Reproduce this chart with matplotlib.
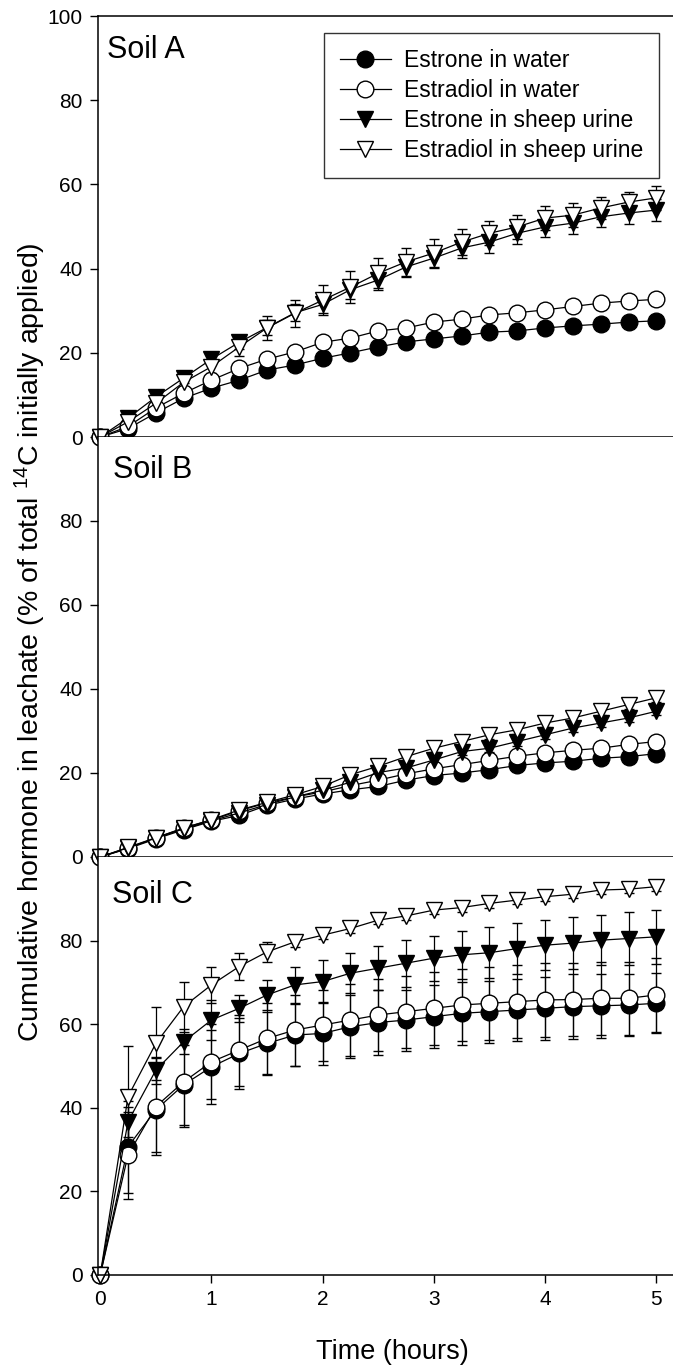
import matplotlib
matplotlib.use("Agg")
import matplotlib.pyplot as plt

plt.rcParams['font.family'] = ['Liberation Sans', 'DejaVu Sans']
plt.rcParams['mathtext.fontset'] = 'custom'
plt.rcParams['mathtext.rm'] = 'Liberation Sans'
plt.rcParams['mathtext.it'] = 'Liberation Sans:italic'
plt.rcParams['mathtext.bf'] = 'Liberation Sans:bold'

# ---------------- data ----------------
time_h = [0, 0.25, 0.5, 0.75, 1.0, 1.25, 1.5, 1.75, 2.0, 2.25, 2.5, 2.75, 3.0,
          3.25, 3.5, 3.75, 4.0, 4.25, 4.5, 4.75, 5.0]

series_labels = ["Estrone in water", "Estradiol in water",
                 "Estrone in sheep urine", "Estradiol in sheep urine"]
panel_labels = ["Soil A", "Soil B", "Soil C"]

# Soil A
A_estrone_water = [0, 2.0, 5.7, 9.2, 11.6, 13.5, 15.9, 17.1, 18.7, 20.0, 21.4, 22.6, 23.3,
                   24.0, 24.9, 25.2, 25.9, 26.4, 26.8, 27.3, 27.6]
A_estradiol_water = [0, 2.5, 6.9, 10.4, 13.5, 16.3, 18.5, 20.2, 22.5, 23.5, 25.2, 25.9, 27.3,
                     28.0, 29.0, 29.5, 30.2, 31.0, 31.8, 32.3, 32.7]
A_estrone_urine = [0, 4.5, 9.5, 14.0, 18.5, 22.5, 26.0, 29.5, 31.5, 35.0, 37.3, 40.4, 42.5,
                   44.9, 46.3, 48.4, 49.9, 50.8, 52.3, 53.2, 53.9]
A_estradiol_urine = [0, 3.6, 8.0, 13.0, 16.7, 21.4, 25.9, 29.4, 32.5, 35.6, 38.9, 41.6, 43.7,
                     46.3, 48.4, 49.9, 52.0, 52.7, 54.4, 55.8, 56.8]
A_estrone_water_err = [0, 0.4, 0.5, 0.6, 0.7, 0.8, 0.8, 0.9, 0.9, 1.0, 1.0, 1.0, 1.0,
                       1.0, 1.0, 1.0, 1.0, 1.0, 1.0, 1.0, 1.0]
A_estradiol_water_err = [0, 0.4, 0.5, 0.6, 0.7, 0.8, 0.8, 0.9, 0.9, 1.0, 1.0, 1.0, 1.0,
                         1.0, 1.0, 1.0, 1.0, 1.0, 1.0, 1.0, 1.0]
A_estrone_urine_err = [0, 0.8, 1.0, 1.2, 1.5, 1.5, 1.8, 2.0, 2.0, 2.2, 2.3, 2.3, 2.4,
                       2.4, 2.5, 2.5, 2.5, 2.5, 2.5, 2.6, 2.6]
A_estradiol_urine_err = [0, 0.8, 1.0, 1.2, 1.5, 2.2, 2.8, 3.2, 3.5, 3.8, 3.6, 3.3, 3.3,
                         3.0, 2.9, 2.9, 2.8, 2.8, 2.6, 2.5, 2.8]

# Soil B
B_estrone_water = [0, 2.0, 4.3, 6.5, 8.5, 9.9, 12.3, 13.8, 15.0, 16.0, 16.8, 18.3, 19.4,
                   20.0, 20.8, 21.8, 22.4, 22.8, 23.5, 23.9, 24.6]
B_estradiol_water = [0, 2.1, 4.5, 6.9, 8.8, 11.0, 12.9, 14.3, 15.5, 17.0, 18.3, 19.8, 21.0,
                     22.0, 23.0, 24.0, 24.8, 25.4, 25.9, 26.8, 27.5]
B_estrone_urine = [0, 2.2, 4.5, 6.7, 8.6, 10.5, 12.5, 14.3, 15.9, 17.8, 20.1, 21.2, 23.1,
                   25.1, 25.9, 27.5, 29.1, 30.7, 31.9, 33.1, 34.7]
B_estradiol_urine = [0, 2.3, 4.6, 6.9, 8.9, 11.2, 13.0, 14.8, 16.8, 19.6, 21.6, 23.9, 25.9,
                     27.5, 29.1, 30.3, 31.9, 33.1, 34.7, 36.3, 37.9]
B_estrone_water_err = [0, 0.3, 0.4, 0.5, 0.6, 0.6, 0.7, 0.7, 0.8, 0.8, 0.8, 0.8, 0.8,
                       0.8, 0.8, 0.8, 0.8, 0.8, 0.8, 0.8, 0.8]
B_estradiol_water_err = [0, 0.3, 0.4, 0.5, 0.6, 0.6, 0.7, 0.7, 0.8, 0.8, 0.8, 0.8, 0.8,
                         0.8, 0.8, 0.8, 0.8, 0.8, 0.8, 0.8, 0.8]
B_estrone_urine_err = [0, 0.3, 0.4, 0.5, 0.6, 0.6, 0.7, 0.7, 0.8, 0.8, 0.8, 0.9, 0.9,
                       0.9, 0.9, 1.0, 1.0, 1.0, 1.0, 1.0, 1.0]
B_estradiol_urine_err = [0, 0.3, 0.4, 0.5, 0.6, 0.6, 0.7, 0.7, 0.8, 0.8, 0.8, 0.9, 0.9,
                         0.9, 0.9, 1.0, 1.0, 1.0, 1.0, 1.0, 1.0]

# Soil C
C_estrone_water = [0, 30.7, 39.5, 45.5, 49.8, 53.0, 55.4, 57.4, 57.8, 59.4, 60.4, 61.0, 61.8,
                   62.6, 63.0, 63.4, 63.8, 64.2, 64.4, 64.6, 65.0]
C_estradiol_water = [0, 28.7, 40.3, 46.2, 51.0, 53.8, 56.6, 58.6, 59.8, 61.0, 62.2, 63.0, 63.8,
                     64.6, 65.0, 65.4, 65.8, 65.9, 66.2, 66.2, 67.0]
C_estrone_urine = [0, 36.7, 49.0, 55.8, 61.0, 63.8, 67.0, 69.4, 70.2, 72.2, 73.4, 74.6, 75.8,
                   76.6, 77.1, 78.1, 78.9, 79.4, 80.1, 80.5, 80.9]
C_estradiol_urine = [0, 42.7, 55.4, 64.2, 69.4, 73.8, 77.3, 79.7, 81.3, 82.9, 84.9, 85.9, 87.3,
                     87.9, 88.9, 89.7, 90.5, 91.1, 92.1, 92.3, 92.9]
C_estrone_water_err = [0, 11.0, 10.0, 9.5, 8.8, 8.5, 7.6, 7.5, 7.5, 7.6, 7.7, 7.3, 7.6,
                       7.6, 7.4, 7.4, 7.6, 7.7, 7.7, 7.4, 7.2]
C_estradiol_water_err = [0, 10.4, 11.6, 10.8, 9.0, 8.5, 8.5, 8.5, 8.5, 8.6, 8.6, 8.6, 8.7,
                         8.7, 8.7, 8.7, 8.8, 8.8, 8.8, 8.8, 8.8]
C_estrone_urine_err = [0, 3.6, 3.2, 3.0, 4.8, 3.2, 3.5, 4.4, 5.2, 4.8, 5.3, 5.6, 5.4,
                       5.8, 6.1, 6.0, 6.0, 6.2, 6.0, 6.4, 6.4]
C_estradiol_urine_err = [0, 12.0, 8.8, 6.0, 4.4, 3.2, 2.4, 1.2, 1.0, 1.0, 1.0, 1.0, 1.0,
                         1.0, 1.0, 1.0, 1.0, 1.0, 1.0, 1.0, 1.0]

y_ticks = [0, 20, 40, 60, 80, 100]
x_ticks = [0, 1, 2, 3, 4, 5]

panels = [
    ([A_estrone_water, A_estradiol_water, A_estrone_urine, A_estradiol_urine],
     [A_estrone_water_err, A_estradiol_water_err, A_estrone_urine_err, A_estradiol_urine_err]),
    ([B_estrone_water, B_estradiol_water, B_estrone_urine, B_estradiol_urine],
     [B_estrone_water_err, B_estradiol_water_err, B_estrone_urine_err, B_estradiol_urine_err]),
    ([C_estrone_water, C_estradiol_water, C_estrone_urine, C_estradiol_urine],
     [C_estrone_water_err, C_estradiol_water_err, C_estrone_urine_err, C_estradiol_urine_err]),
]

# ---------------- styling ----------------
styles = [dict(marker='o', mfc='black'), dict(marker='o', mfc='white'),
          dict(marker='v', mfc='black'), dict(marker='v', mfc='white')]

W, H = 673, 1367
fig = plt.figure(figsize=(W / 100, H / 100), dpi=100)

left = 98 / W
right = 1.0
bounds = [(16, 437), (437, 857), (857, 1275)]
label_pos = [(107, 19), (113, 18), (112, 23)]

handles = None
for i, ((ys, errs), (top, bot)) in enumerate(zip(panels, bounds)):
    ax = fig.add_axes([left, 1 - bot / H, right - left, (bot - top) / H])
    conts = []
    for y, e, st in zip(ys, errs, styles):
        c = ax.errorbar(time_h, y, yerr=e, color='black', lw=0.9,
                        marker=st['marker'], mfc=st['mfc'], mec='black',
                        ms=12, mew=1.0, capsize=3.6, elinewidth=0.9,
                        capthick=0.9, ecolor='black')
        c[0].set_clip_on(False)
        conts.append(c)
    if handles is None:
        handles = [c[0] for c in conts]
    ax.set_xlim(-0.02, 5.15)
    ax.set_ylim(0, 100)
    ax.set_xticks(x_ticks)
    if i == 0:
        ax.set_yticks(y_ticks)
    else:
        ax.set_yticks(y_ticks[:-1])
    ax.tick_params(direction='out', length=6, width=1.0, labelsize=15, pad=5)
    ax.tick_params(axis='x', top=False)
    ax.tick_params(axis='y', right=False)
    if i < 2:
        ax.tick_params(axis='x', labelbottom=False)
    ax.spines['right'].set_visible(False)
    for s in ['left', 'bottom', 'top']:
        ax.spines[s].set_linewidth(1.1)
    if i > 0:
        ax.spines['top'].set_visible(False)
    lx, ly = label_pos[i]
    ax.text((lx - 98) / (W - 98), 1 - ly / (bot - top), panel_labels[i],
            transform=ax.transAxes, fontsize=22, ha='left', va='top')

leg = fig.legend(handles, series_labels, loc='upper right',
                 bbox_to_anchor=(659 / W, 1 - 33 / H), bbox_transform=fig.transFigure,
                 fontsize=16.5, frameon=True, fancybox=False, numpoints=1,
                 handlelength=2.25, handletextpad=0.55, labelspacing=0.3,
                 borderpad=0.7, borderaxespad=0)
leg.get_frame().set_edgecolor('black')
leg.get_frame().set_linewidth(1.0)

fig.text(30 / W, 1 - 642 / H,
         r"Cumulative hormone in leachate (% of total $^{\mathrm{14}}$C initially applied)",
         rotation=90, ha='center', va='center', fontsize=20.5)
fig.text(392 / W, 1 - 1352 / H, "Time (hours)", ha='center', va='center', fontsize=19.5)

fig.savefig("out.png", dpi=100)
